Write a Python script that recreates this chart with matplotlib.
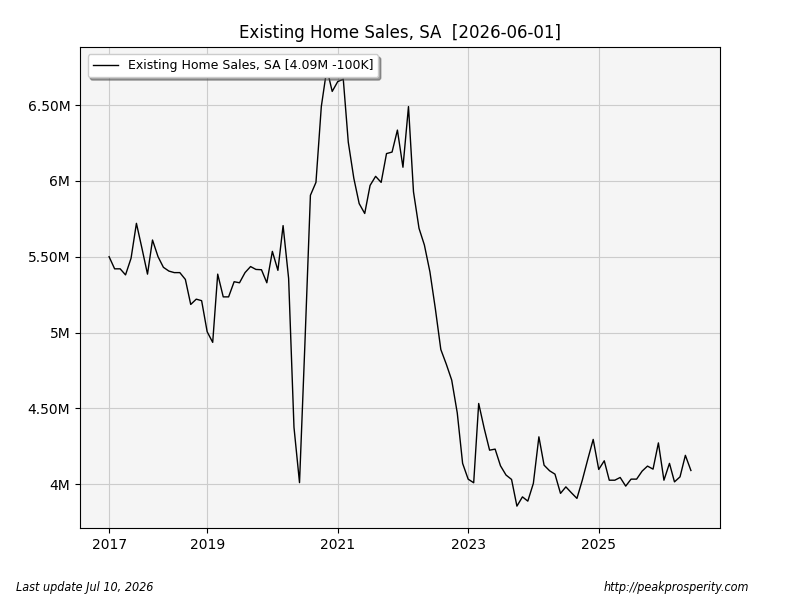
import matplotlib
matplotlib.use("Agg")
import matplotlib.pyplot as plt
import matplotlib.dates as mdates
import matplotlib.ticker as mticker
import pandas as pd

start_month = "2017-07-01"
values_m = [
    5.50, 5.42, 5.42, 5.38, 5.49, 5.72, 5.555, 5.385, 5.61, 5.50,
    5.43, 5.405, 5.395, 5.395, 5.35, 5.185, 5.22, 5.21, 5.005, 4.935,
    5.385, 5.235, 5.235, 5.335, 5.328, 5.395, 5.435, 5.416, 5.414, 5.328,
    5.535, 5.41, 5.705, 5.357, 4.375, 4.01, 4.92, 5.905, 5.99, 6.49,
    6.74, 6.59, 6.655, 6.67, 6.255, 6.017, 5.85, 5.785, 5.97, 6.03,
    5.99, 6.18, 6.19, 6.335, 6.09, 6.49, 5.928, 5.687, 5.577, 5.40,
    5.16, 4.888, 4.79, 4.686, 4.47, 4.137, 4.033, 4.009, 4.532, 4.367,
    4.224, 4.231, 4.121, 4.06, 4.031, 3.855, 3.916, 3.888, 4.005, 4.312,
    4.125, 4.088, 4.066, 3.939, 3.982, 3.943, 3.906, 4.026, 4.165, 4.295,
    4.097, 4.154, 4.026, 4.026, 4.044, 3.987, 4.033, 4.033, 4.086, 4.119,
    4.099, 4.272, 4.026, 4.137, 4.015, 4.048, 4.19, 4.09,
]
tick_labels = ["2017", "2019", "2021", "2023", "2025"]

dates = pd.date_range(start_month, periods=len(values_m), freq="MS")
values = [v * 1e6 for v in values_m]

fig = plt.figure(figsize=(8, 6), dpi=100)
ax = fig.add_axes([0.1, 0.12, 0.8, 0.802])
ax.set_facecolor("#f5f5f5")
ax.plot(dates, values, color="black", lw=1.0,
        label="Existing Home Sales, SA [4.09M -100K]")

tick_dates = [dates[0]] + [pd.Timestamp(f"{y}-01-01") for y in tick_labels[1:]]
ax.set_xticks(mdates.date2num(tick_dates))
ax.set_xticklabels(tick_labels)

def fmt(v, pos):
    m = v / 1e6
    if abs(m - round(m)) < 1e-9:
        return f"{int(round(m))}M"
    return f"{m:.2f}M"

ax.yaxis.set_major_locator(mticker.MultipleLocator(0.5e6))
ax.yaxis.set_major_formatter(mticker.FuncFormatter(fmt))
ax.grid(True, color="#cccccc", lw=0.8)
ax.set_axisbelow(True)
ax.set_title("Existing Home Sales, SA  [2026-06-01]", fontsize=12)
leg = ax.legend(loc="upper left", fontsize=9, shadow=True, fancybox=True,
                framealpha=1.0, borderaxespad=0.6)
leg.set_zorder(5)

fig.text(0.02, 0.015, "Last update Jul 10, 2026", fontsize=9, style="italic",
         fontstretch="condensed")
fig.text(0.937, 0.015, "http://peakprosperity.com", fontsize=9, style="italic",
         fontstretch="condensed", ha="right")

fig.savefig("out.png", dpi=100)
